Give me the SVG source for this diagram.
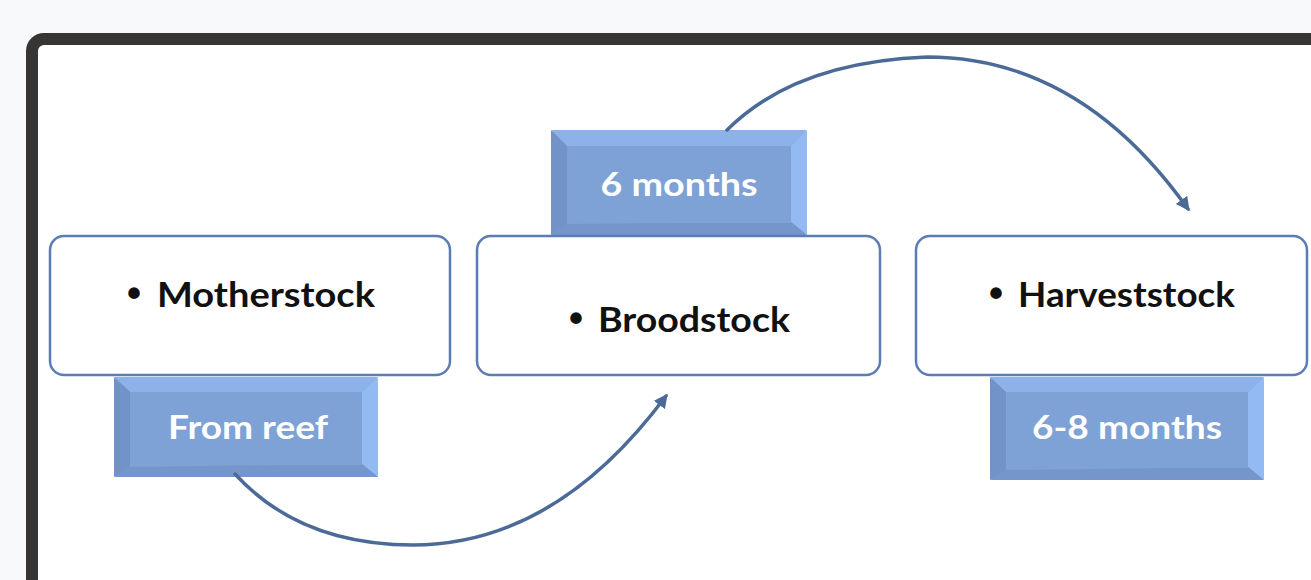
<svg xmlns="http://www.w3.org/2000/svg" width="1311" height="580" viewBox="0 0 1311 580">
<defs>
<style>
.node{fill:#ffffff;stroke:#5a7db5;stroke-width:2.5}
.ntext{font-family:Lato,"Open Sans","Liberation Sans",sans-serif;font-weight:700;font-size:35px;fill:#111111}
.bul{font-family:"Liberation Sans",sans-serif;font-weight:700;font-size:40px;fill:#111111}
.ltext{font-family:Lato,"Open Sans","Liberation Sans",sans-serif;font-weight:700;font-size:33px;fill:#ffffff;text-anchor:middle}
.conn{fill:none;stroke:#4b6a98;stroke-width:3.5;stroke-linecap:round}
.bc{fill:#7ea1d6}
.bt{fill:#8cb2e9}
.bl{fill:#7193c8}
.br{fill:#93baf2}
.bb{fill:#7596ca}
</style>
<marker id="arrow" viewBox="0 0 10 10" refX="8" refY="5" markerWidth="4" markerHeight="4" orient="auto" markerUnits="strokeWidth">
<path d="M0,0 L10,5 L0,10 z" fill="#4b6a98"/>
</marker>
</defs>
<rect x="0" y="0" width="1311" height="580" fill="#f7f9fb"/>
<rect x="32" y="39" width="1320" height="600" rx="12" fill="#ffffff" stroke="#363534" stroke-width="12"/>

<g id="label-6months">
<rect x="551" y="130" width="256" height="105" rx="6" class="bc"/>
<polygon points="551,130 807,130 791,146 567,146" class="bt"/>
<polygon points="551,130 567,146 567,224 551,235" class="bl"/>
<polygon points="807,130 807,235 791,222 791,146" class="br"/>
<polygon points="551,235 567,224 791,222 807,235" class="bb"/>
<rect x="567" y="146" width="224" height="77" class="bc"/>
<text x="679" y="196" class="ltext" textLength="157" lengthAdjust="spacingAndGlyphs">6 months</text>
</g>

<g id="label-fromreef">
<rect x="114" y="377" width="264" height="100" rx="6" class="bc"/>
<polygon points="114,377 378,377 362,392 130,392" class="bt"/>
<polygon points="114,377 130,392 130,467 114,477" class="bl"/>
<polygon points="378,377 378,477 362,464 362,392" class="br"/>
<polygon points="114,477 130,467 362,464 378,477" class="bb"/>
<rect x="130" y="392" width="232" height="73" class="bc"/>
<text x="248" y="439" class="ltext" textLength="160" lengthAdjust="spacingAndGlyphs">From reef</text>
</g>

<g id="label-68months">
<rect x="990" y="377" width="274" height="103" rx="6" class="bc"/>
<polygon points="990,377 1264,377 1248,392 1006,392" class="bt"/>
<polygon points="990,377 1006,392 1006,470 990,480" class="bl"/>
<polygon points="1264,377 1264,480 1248,467 1248,392" class="br"/>
<polygon points="990,480 1006,470 1248,467 1264,480" class="bb"/>
<rect x="1006" y="392" width="242" height="76" class="bc"/>
<text x="1127" y="439" class="ltext" textLength="190" lengthAdjust="spacingAndGlyphs">6-8 months</text>
</g>

<g id="node-motherstock">
<rect x="50" y="236" width="400" height="139" rx="14" class="node"/>
<text x="127" y="307" class="bul">•</text>
<text x="157" y="307" class="ntext" textLength="218" lengthAdjust="spacingAndGlyphs">Motherstock</text>
</g>

<g id="node-broodstock">
<rect x="477" y="236" width="403" height="139" rx="14" class="node"/>
<text x="569" y="332" class="bul">•</text>
<text x="598" y="332" class="ntext" textLength="192" lengthAdjust="spacingAndGlyphs">Broodstock</text>
</g>

<g id="node-harveststock">
<rect x="916" y="236" width="391" height="139" rx="14" class="node"/>
<text x="989" y="307" class="bul">•</text>
<text x="1018" y="307" class="ntext" textLength="217" lengthAdjust="spacingAndGlyphs">Harveststock</text>
</g>

<g id="connectors">
<path class="conn" d="M235,474 Q300,545 413,545 Q555,545 666,396" marker-end="url(#arrow)"/>
<path class="conn" d="M727,130 Q795,62 927,57 Q1080,57 1188,209" marker-end="url(#arrow)"/>
</g>
</svg>
